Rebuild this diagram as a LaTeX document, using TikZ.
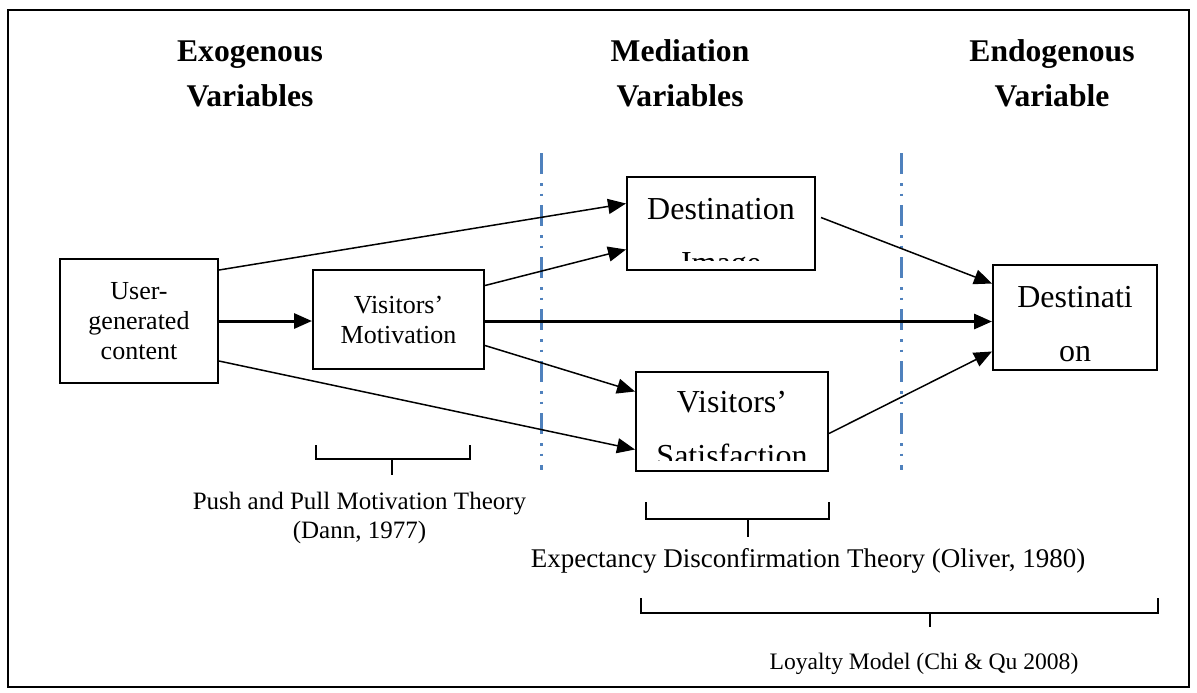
\documentclass[tikz,border=0pt]{standalone}
\usepackage{fontspec}
\setmainfont{Liberation Serif}
\usetikzlibrary{arrows.meta}
\definecolor{sepblue}{RGB}{79,129,189}
\begin{document}
\begin{tikzpicture}[x=0.5pt,y=-0.5pt,
    box/.style={draw,line width=1pt,inner sep=0pt},
    headtxt/.style={font=\fontsize{15.8}{22.5}\selectfont\bfseries,align=center,anchor=base},
    boxtxt/.style={font=\fontsize{13}{15}\selectfont,align=center},
    bigtxt/.style={font=\fontsize{16}{27}\selectfont,align=center,anchor=base,inner sep=0pt},
    reftxt/.style={font=\fontsize{12.3}{14.5}\selectfont,align=center,anchor=base,inner sep=0pt},
    link/.style={line width=0.75pt,-{Triangle[length=9pt,width=7.5pt]}},
    boldlink/.style={link,line width=1.5pt},
    divider/.style={sepblue,line width=1.5pt,dash pattern=on 10.5pt off 4.5pt on 1.25pt off 4pt on 1.25pt off 4.5pt},
    bracket/.style={line width=0.75pt}]
\useasboundingbox (0,0) rectangle (1197,692);
\draw[line width=0.75pt] (8,10) rectangle (1189,687);
% headings
\node[headtxt] (exo) at (250,106) {Exogenous\\Variables};
\node[headtxt] (med) at (680,106) {Mediation\\Variables};
\node[headtxt] (endo) at (1052,106) {Endogenous\\Variable};
% separators
\draw[divider] (541,153) -- (541,470);
\draw[divider] (901,153) -- (901,470);
% boxes
\node[box,boxtxt,minimum width=79pt,minimum height=62pt] (ugc) at (139,321) {User-\\generated\\content};
\node[box,boxtxt,minimum width=85.5pt,minimum height=49.5pt] (mot) at (398.5,319.5) {Visitors'\\Motivation};
\node[box,minimum width=94pt,minimum height=46.5pt] (img) at (721,223.5) {};
\node[box,minimum width=96pt,minimum height=49.5pt] (sat) at (732,421.5) {};
\node[box,minimum width=82pt,minimum height=52.5pt] (dest) at (1075,317.5) {};
\begin{scope}
\clip (627,177) rectangle (815,260);
\node[bigtxt] (imgtxt) at (721,273) {Destination\\Image};
\end{scope}
\begin{scope}
\clip (636,372) rectangle (828,460);
\node[bigtxt] (sattxt) at (732,466) {Visitors'\\Satisfaction};
\end{scope}
\node[bigtxt] (desttxt) at (1075,361) {Destinati\\on};
% paths
\draw[link] ([yshift=25.5pt]ugc.east) -- ([yshift=10pt]img.west);
\draw[link] ([yshift=-20pt]ugc.east) -- ([yshift=-14pt]sat.west);
\draw[boldlink] (ugc.east) -- (ugc.east -| mot.west);
\draw[link] ([yshift=17pt]mot.east) -- ([yshift=-13pt]img.west);
\draw[boldlink] ([yshift=-1pt]mot.east) -- ([yshift=-1pt]mot.east -| dest.west);
\draw[link] ([yshift=-13pt]mot.east) -- ([yshift=15pt]sat.west);
\draw[link] ([xshift=2.5pt,yshift=3pt]img.east) -- ([yshift=17pt]dest.west);
\draw[link] ([yshift=-6pt]sat.east) -- ([yshift=-17pt]dest.west);
% theories
\draw[bracket] (316,445) -- (316,459) -- (470,459) -- (470,445);
\draw[line width=1pt] (392,459) -- (392,475);
\node[reftxt,font=\fontsize{12.5}{14.5}\selectfont] (push) at (359.5,538) {Push and Pull Motivation Theory\\(Dann, 1977)};
\draw[bracket] (646,502) -- (646,519) -- (829,519) -- (829,502);
\draw[line width=1pt] (748,519) -- (748,537);
\node[reftxt,font=\fontsize{13.5}{15}\selectfont] (expect) at (808,567) {Expectancy Disconfirmation Theory (Oliver, 1980)};
\draw[bracket] (641,598) -- (641,613) -- (1158,613) -- (1158,598);
\draw[line width=1pt] (930,613) -- (930,627);
\node[reftxt,font=\fontsize{11.8}{14}\selectfont] (loyal) at (924,669) {Loyalty Model (Chi \& Qu 2008)};
\end{tikzpicture}
\end{document}
